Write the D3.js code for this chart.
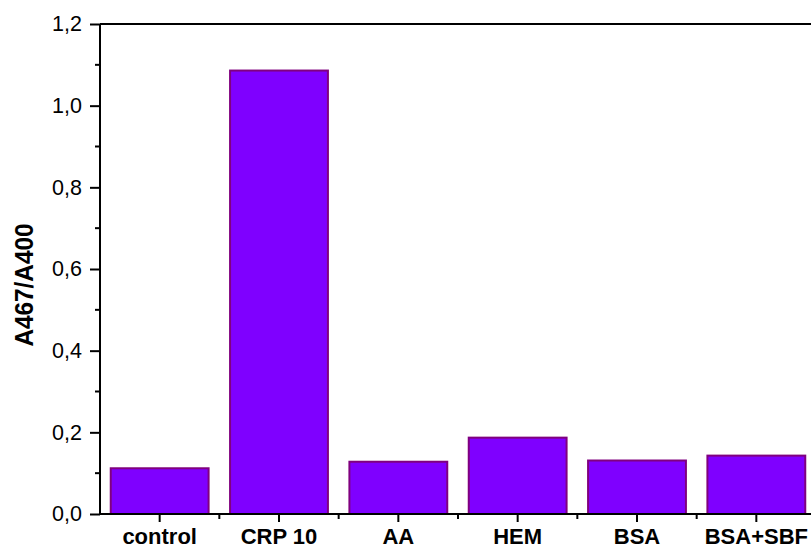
<!DOCTYPE html>
<html>
<head>
<meta charset="utf-8">
<script src="https://cdn.jsdelivr.net/npm/d3@7"></script>
<style>
  html, body { margin: 0; padding: 0; background: #fff; }
  svg { display: block; }
</style>
</head>
<body>
<svg id="chart" width="811" height="549"></svg>
<script>
// Sample groups and measured absorbance ratio
const categories = ["control", "CRP 10", "AA", "HEM", "BSA", "BSA+SBF"];
const ratios = [0.112, 1.086, 0.128, 0.187, 0.131, 0.143];
const yTicks = [0, 0.2, 0.4, 0.6, 0.8, 1.0, 1.2];
const yMinorTicks = [0.1, 0.3, 0.5, 0.7, 0.9, 1.1];
const yLabel = "A467/A400";

const svg = d3.select("#chart");
const plotLeft = 100, plotTop = 24, plotBottom = 514, plotRight = 816;
const fontFamily = "'Liberation Sans', Arial, sans-serif";

const x = d3.scaleBand().domain(categories).range([plotLeft, plotRight]).paddingInner(0.18).paddingOuter(0.09);
const y = d3.scaleLinear().domain([0, 1.2]).range([plotBottom, plotTop]);

const fmt = d => d3.format(".1f")(d).replace(".", ",");

// Bars
svg.append("g").selectAll("rect")
  .data(categories)
  .join("rect")
  .attr("x", d => x(d))
  .attr("y", (d, i) => y(ratios[i]))
  .attr("width", x.bandwidth())
  .attr("height", (d, i) => y(0) - y(ratios[i]))
  .attr("fill", "#7f00ff")
  .attr("stroke", "#80007f")
  .attr("stroke-width", 2);

// Top frame line
svg.append("line")
  .attr("x1", plotLeft).attr("x2", 811).attr("y1", plotTop).attr("y2", plotTop)
  .attr("stroke", "#000").attr("stroke-width", 2);

// Y axis
const yAxis = svg.append("g").attr("transform", `translate(${plotLeft},0)`)
  .call(d3.axisLeft(y).tickValues(yTicks).tickFormat(fmt).tickSize(10).tickPadding(8));
yAxis.attr("font-size", 21.5).attr("font-family", fontFamily);
yAxis.select(".domain").attr("stroke-width", 2).attr("d", `M0,${plotTop}V${plotBottom}`);
yAxis.selectAll(".tick line").attr("stroke-width", 2);
yAxis.selectAll(".tick text").attr("fill", "#000");
yAxis.append("g").selectAll("line")
  .data(yMinorTicks).join("line")
  .attr("x1", -5).attr("x2", 0)
  .attr("y1", d => y(d)).attr("y2", d => y(d))
  .attr("stroke", "#000").attr("stroke-width", 2);

// X axis
const xAxis = svg.append("g").attr("transform", `translate(0,${plotBottom})`)
  .call(d3.axisBottom(x).tickSize(8).tickPadding(6));
xAxis.attr("font-size", 22).attr("font-family", fontFamily).attr("font-weight", "bold");
xAxis.select(".domain").attr("stroke-width", 2).attr("d", `M${plotLeft},0H811`);
xAxis.selectAll(".tick line").attr("stroke-width", 2);
xAxis.selectAll(".tick text").attr("fill", "#000");
const step = x.step();
xAxis.append("g").selectAll("line")
  .data(categories.slice(1)).join("line")
  .attr("x1", d => x(d) + x.bandwidth() / 2 - step / 2)
  .attr("x2", d => x(d) + x.bandwidth() / 2 - step / 2)
  .attr("y1", 0).attr("y2", 5)
  .attr("stroke", "#000").attr("stroke-width", 2);

// Y axis title
svg.append("text")
  .attr("transform", "translate(33,285) rotate(-90)")
  .attr("text-anchor", "middle")
  .attr("font-family", fontFamily)
  .attr("font-size", 25).attr("font-weight", "bold")
  .attr("textLength", 123).attr("lengthAdjust", "spacingAndGlyphs")
  .text(yLabel);
</script>
</body>
</html>
